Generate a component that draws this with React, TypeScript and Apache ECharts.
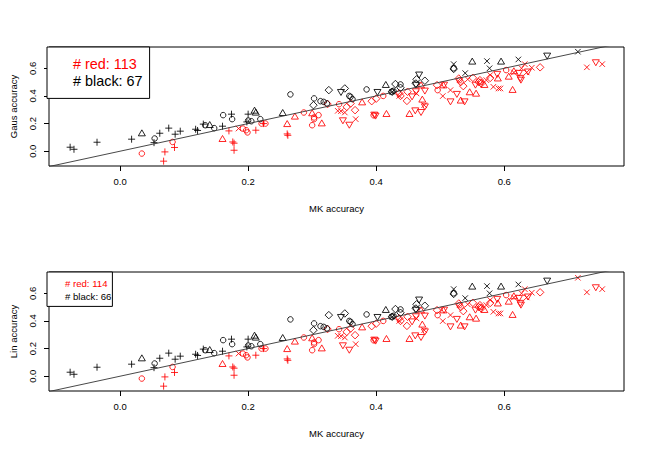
import React, { useEffect, useRef } from "react";
import * as echarts from "echarts";

const xTicks = [0, 0.2, 0.4, 0.6];
const yTicks = [0, 0.2, 0.4, 0.6];
const xRange = [-0.111, 0.787];
const yRange = [-0.107, 0.754];

const legendGaus = { red: "# red: 113", black: "# black: 67" };
const legendLin = { red: "# red: 114", black: "# black: 66" };

// red points (below diagonal)
const redCircle = [[0.034,-0.017],[0.082,0.067],[0.192,0.164],[0.197,0.152],[0.199,0.136],[0.221,0.2],[0.227,0.2],[0.287,0.28],[0.303,0.244],[0.303,0.232],[0.31,0.261],[0.3,0.188],[0.342,0.34],[0.411,0.4],[0.396,0.26],[0.496,0.442],[0.53,0.514],[0.563,0.5],[0.603,0.587]];
const redPlus = [[0.07,-0.005],[0.068,-0.072],[0.085,0.027],[0.17,0.147],[0.176,0.067],[0.178,0.058],[0.178,0.007],[0.212,0.152],[0.224,0.2],[0.261,0.125],[0.262,0.115]];
const redCross = [[0.185,0.164],[0.34,0.292],[0.345,0.29],[0.351,0.28],[0.368,0.232],[0.436,0.4],[0.463,0.418],[0.475,0.333],[0.504,0.399],[0.516,0.442],[0.543,0.52],[0.572,0.514],[0.578,0.551],[0.583,0.466],[0.591,0.454],[0.594,0.454],[0.615,0.57],[0.627,0.6],[0.632,0.63],[0.635,0.57],[0.643,0.604],[0.729,0.607],[0.753,0.63]];
const redTri = [[0.16,0.092],[0.261,0.2],[0.273,0.254],[0.3,0.278],[0.315,0.205],[0.378,0.357],[0.416,0.273],[0.452,0.273],[0.472,0.377],[0.47,0.48],[0.505,0.48],[0.532,0.37],[0.546,0.43],[0.569,0.483],[0.607,0.543],[0.613,0.447],[0.615,0.582],[0.59,0.53],[0.556,0.42]];
const redDiamond = [[0.324,0.341],[0.354,0.321],[0.36,0.345],[0.367,0.297],[0.393,0.362],[0.4,0.38],[0.436,0.418],[0.438,0.4],[0.449,0.43],[0.448,0.364],[0.495,0.478],[0.529,0.526],[0.532,0.5],[0.536,0.471],[0.551,0.531],[0.56,0.5],[0.562,0.514],[0.564,0.49],[0.578,0.53],[0.656,0.607]];
const redTriDown = [[0.348,0.22],[0.358,0.188],[0.397,0.261],[0.399,0.254],[0.456,0.393],[0.461,0.292],[0.462,0.43],[0.47,0.28],[0.476,0.435],[0.476,0.321],[0.506,0.478],[0.516,0.357],[0.526,0.411],[0.538,0.357],[0.555,0.478],[0.589,0.556],[0.623,0.563],[0.625,0.527],[0.626,0.514],[0.637,0.573],[0.743,0.64]];

// black points (above diagonal)
const blackCircle = [[0.054,0.092],[0.133,0.188],[0.147,0.167],[0.161,0.261],[0.175,0.232],[0.2,0.222],[0.205,0.217],[0.219,0.232],[0.266,0.411],[0.303,0.382],[0.313,0.362],[0.318,0.357],[0.323,0.346],[0.358,0.4],[0.36,0.393],[0.363,0.377],[0.385,0.447],[0.424,0.43],[0.427,0.437],[0.438,0.483],[0.521,0.6]];
const blackPlus = [[-0.078,0.029],[-0.072,0.014],[-0.036,0.065],[0.018,0.087],[0.053,0.062],[0.062,0.13],[0.076,0.167],[0.086,0.123],[0.094,0.145],[0.118,0.159],[0.121,0.15],[0.13,0.196],[0.16,0.181],[0.174,0.268],[0.2,0.268],[0.198,0.212]];
const blackTri = [[0.034,0.133],[0.14,0.193],[0.21,0.297],[0.212,0.283],[0.254,0.28],[0.415,0.483],[0.55,0.652],[0.595,0.652]];
const blackDiamond = [[0.302,0.333],[0.326,0.442],[0.351,0.454],[0.425,0.43],[0.43,0.486],[0.438,0.459],[0.462,0.49],[0.463,0.52],[0.476,0.51],[0.521,0.595]];
const blackTriDown = [[0.345,0.425],[0.402,0.425],[0.462,0.478],[0.467,0.551],[0.667,0.688]];
const blackCross = [[0.425,0.43],[0.521,0.63],[0.539,0.565],[0.573,0.652],[0.577,0.6],[0.622,0.664]];

// the one point that changes side between the two panels
const edgeCrossGaus = [[0.715, 0.72]]; // black in Gaus panel
const edgeCrossLin = [[0.715, 0.712]]; // red in Lin panel

const FONT = "'Liberation Sans', Arial, Helvetica, sans-serif";
const RED = "#ff0000";
const BLACK = "#000000";

const SYM = {
  circle: { symbol: "circle", symbolSize: 5.5, rotate: 0 },
  tri: { symbol: "triangle", symbolSize: [7, 6], rotate: 0 },
  triDown: { symbol: "triangle", symbolSize: [7, 6], rotate: 180 },
  diamond: { symbol: "diamond", symbolSize: [7.5, 7.5], rotate: 0 },
  plus: { symbol: "path://M0,4H8M4,0V8", symbolSize: 7, rotate: 0 },
  cross: { symbol: "path://M0,0L8,8M8,0L0,8", symbolSize: 5.5, rotate: 0 },
};

function scatter(name: string, data: number[][], shape: keyof typeof SYM, color: string, idx: number) {
  const s = SYM[shape];
  return {
    type: "scatter",
    name,
    xAxisIndex: idx,
    yAxisIndex: idx,
    data,
    symbol: s.symbol,
    symbolSize: s.symbolSize,
    symbolRotate: s.rotate,
    silent: true,
    itemStyle: { color: "transparent", borderColor: color, borderWidth: 0.85, opacity: 1 },
    emphasis: { disabled: true },
    z: 3,
  };
}

function panelSeries(idx: number, redName: string, blackName: string, extraRed: number[][], extraBlack: number[][]) {
  return [
    scatter(redName, redCircle, "circle", RED, idx),
    scatter(redName, redPlus, "plus", RED, idx),
    scatter(redName, redCross.concat(extraRed), "cross", RED, idx),
    scatter(redName, redTri, "tri", RED, idx),
    scatter(redName, redDiamond, "diamond", RED, idx),
    scatter(redName, redTriDown, "triDown", RED, idx),
    scatter(blackName, blackCircle, "circle", BLACK, idx),
    scatter(blackName, blackPlus, "plus", BLACK, idx),
    scatter(blackName, blackCross.concat(extraBlack), "cross", BLACK, idx),
    scatter(blackName, blackTri, "tri", BLACK, idx),
    scatter(blackName, blackDiamond, "diamond", BLACK, idx),
    scatter(blackName, blackTriDown, "triDown", BLACK, idx),
    {
      type: "line",
      name: "diag" + idx,
      xAxisIndex: idx,
      yAxisIndex: idx,
      data: [[xRange[0], xRange[0]], [xRange[1], xRange[1]]],
      symbol: "none",
      silent: true,
      clip: true,
      lineStyle: { color: "#333", width: 0.9 },
      z: 4,
    },
  ];
}

function xAxis(idx: number) {
  return {
    type: "value",
    gridIndex: idx,
    min: xRange[0],
    max: xRange[1],
    axisLine: { show: false, onZero: false },
    axisTick: { show: true, customValues: xTicks, length: 5, inside: false, lineStyle: { color: "#000", width: 1 } },
    axisLabel: { customValues: xTicks, formatter: (v: number) => v.toFixed(1), margin: 10, fontSize: 9.5, color: "#000", fontFamily: FONT },
    splitLine: { show: false },
    name: "MK accuracy",
    nameLocation: "middle",
    nameGap: 37,
    nameTextStyle: { fontSize: 9.5, color: "#000", fontFamily: FONT },
  };
}

function yAxis(idx: number, name: string) {
  return {
    type: "value",
    gridIndex: idx,
    min: yRange[0],
    max: yRange[1],
    axisLine: { show: false, onZero: false },
    axisTick: { show: true, customValues: yTicks, length: 5, inside: false, lineStyle: { color: "#000", width: 1 } },
    axisLabel: { customValues: yTicks, formatter: (v: number) => v.toFixed(1), rotate: 90, margin: 12, fontSize: 9.5, color: "#000", fontFamily: FONT },
    splitLine: { show: false },
    name,
    nameLocation: "middle",
    nameRotate: 90,
    nameGap: 31,
    nameTextStyle: { fontSize: 9.5, color: "#000", fontFamily: FONT },
  };
}

export default function App() {
  const ref = useRef<HTMLDivElement>(null);
  useEffect(() => {
    const chart = echarts.init(ref.current!, null, { renderer: "svg" });
    const option: any = {
      animation: false,
      backgroundColor: "#fff",
      grid: [
        { left: 47, top: 47, width: 577, height: 119, show: true, borderColor: "#000", borderWidth: 1, backgroundColor: "transparent" },
        { left: 47, top: 272, width: 577, height: 119, show: true, borderColor: "#000", borderWidth: 1, backgroundColor: "transparent" },
      ],
      xAxis: [xAxis(0), xAxis(1)],
      yAxis: [yAxis(0, "Gaus accuracy"), yAxis(1, "Lin accuracy")],
      legend: [
        {
          left: 47, top: 47, orient: "vertical", selectedMode: false,
          data: [
            { name: legendGaus.red, icon: "none", textStyle: { color: RED } },
            { name: legendGaus.black, icon: "none", textStyle: { color: BLACK } },
          ],
          itemWidth: 14, itemHeight: 14, itemGap: 3.4,
          padding: [10, 7, 10, 7],
          borderColor: "#000", borderWidth: 1, borderRadius: 0, backgroundColor: "#fff",
          textStyle: { fontSize: 14.4, fontFamily: FONT },
        },
        {
          left: 47, top: 272, orient: "vertical", selectedMode: false,
          data: [
            { name: legendLin.red, icon: "none", textStyle: { color: RED } },
            { name: legendLin.black, icon: "none", textStyle: { color: BLACK } },
          ],
          itemWidth: 10, itemHeight: 10, itemGap: 3.4,
          padding: [6, 1, 5, 3],
          borderColor: "#000", borderWidth: 1, borderRadius: 0, backgroundColor: "#fff",
          textStyle: { fontSize: 9.6, fontFamily: FONT },
        },
      ],
      series: [
        ...panelSeries(0, legendGaus.red, legendGaus.black, [], edgeCrossGaus),
        ...panelSeries(1, legendLin.red, legendLin.black, edgeCrossLin, []),
      ],
    };
    chart.setOption(option);
    return () => chart.dispose();
  }, []);
  return <div ref={ref} style={{ position: "fixed", left: 0, top: 0, width: 648, height: 450 }} />;
}
